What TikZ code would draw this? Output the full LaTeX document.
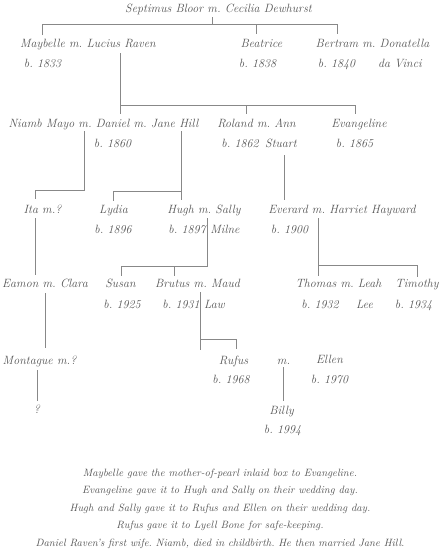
\documentclass[tikz,border=0pt]{standalone}
\usepackage{xcolor}
\definecolor{txt}{HTML}{555555}
\definecolor{ln}{HTML}{888888}
\begin{document}
\frenchspacing
\begin{tikzpicture}[x=1pt,y=-1pt,
  person/.style={anchor=base,inner sep=0pt,text=txt,font=\fontsize{12}{14}\selectfont\itshape},
  note/.style={anchor=base,inner sep=0pt,text=txt,font=\fontsize{10.6}{12}\selectfont\itshape},
  link/.style={draw=ln,line width=0.7pt}]
\useasboundingbox (0,0) rectangle (440,550);
% generation 0
\node[person] (title) at (218.5,12) {Septimus Bloor m. Cecilia Dewhurst};
% generation 1
\node[person] (maybelle) at (88,47) {Maybelle m. Lucius Raven};
\node[person] (b1833) at (42.5,67) {b. 1833};
\node[person] (beatrice) at (261.5,47) {Beatrice};
\node[person] (b1838) at (257.5,67) {b. 1838};
\node[person] (bertram) at (372.5,47) {Bertram m. Donatella};
\node[person] (b1840) at (336.5,67) {b. 1840};
\node[person] (davinci) at (400,67) {da Vinci};
% generation 2
\node[person] (niamb) at (103.5,127) {Niamb Mayo m. Daniel m. Jane Hill};
\node[person] (b1860) at (112.5,147) {b. 1860};
\node[person] (roland) at (256.5,127) {Roland m. Ann};
\node[person] (b1862) at (240,147) {b. 1862};
\node[person] (stuart) at (281,147) {Stuart};
\node[person] (evangeline) at (359,127) {Evangeline};
\node[person] (b1865) at (354.5,147) {b. 1865};
% generation 3
\node[person] (ita) at (42.5,213) {Ita m.?};
\node[person] (lydia) at (113.5,213) {Lydia};
\node[person] (b1896) at (113,233) {b. 1896};
\node[person] (hugh) at (204,213) {Hugh m. Sally};
\node[person] (b1897) at (187,233) {b. 1897};
\node[person] (milne) at (225,233) {Milne};
\node[person] (everard) at (342,213) {Everard m. Harriet Hayward};
\node[person] (b1900) at (289.5,233) {b. 1900};
% generation 4
\node[person] (eamon) at (45,287) {Eamon m. Clara};
\node[person] (susan) at (120.5,287) {Susan};
\node[person] (b1925) at (122,308) {b. 1925};
\node[person] (brutus) at (197.5,287) {Brutus m. Maud};
\node[person] (b1931) at (181,308) {b. 1931};
\node[person] (law) at (214.5,308) {Law};
\node[person] (thomas) at (338.5,287) {Thomas m. Leah};
\node[person] (b1932) at (320,308) {b. 1932};
\node[person] (lee) at (364.5,308) {Lee};
\node[person] (timothy) at (417,287) {Timothy};
\node[person] (b1934) at (413.5,308) {b. 1934};
% generation 5
\node[person] (montague) at (39.5,364) {Montague m.?};
\node[person] (rufus) at (233.5,364) {Rufus};
\node[person] (b1968) at (231,383) {b. 1968};
\node[person] (mdot) at (283.5,364) {m.};
\node[person] (ellen) at (329.5,363) {Ellen};
\node[person] (b1970) at (329.5,383) {b. 1970};
% generation 6
\node[person] (unknown) at (37,413) {?};
\node[person] (billy) at (281.5,414) {Billy};
\node[person] (b1994) at (282.5,433) {b. 1994};
% notes
\node[note] (n1) at (220,476) {Maybelle gave the mother-of-pearl inlaid box to Evangeline.};
\node[note] (n2) at (220,493.5) {Evangeline gave it to Hugh and Sally on their wedding day.};
\node[note] (n3) at (220,511) {Hugh and Sally gave it to Rufus and Ellen on their wedding day.};
\node[note] (n4) at (220,528.5) {Rufus gave it to Lyell Bone for safe-keeping.};
\node[note] (n5) at (220,546) {Daniel Raven's first wife. Niamb, died in childbirth. He then married Jane Hill.};
% junction coordinates
\coordinate (sbM) at (212,17);  \coordinate (sbJ) at (212,24);
\coordinate (sbL) at (42,24);   \coordinate (sbLd) at (42,35);
\coordinate (sbB) at (256,24);  \coordinate (sbBd) at (256,34);
\coordinate (sbR) at (337,24);  \coordinate (sbRd) at (337,34);
\coordinate (lrM) at (120,53);  \coordinate (lrL) at (120,105);  \coordinate (lrLd) at (120,114);
\coordinate (lrR) at (355,105); \coordinate (lrRd) at (355,114);
\coordinate (lrC) at (246,105); \coordinate (lrCd) at (246,114);
\coordinate (nmM) at (84,131);  \coordinate (nmJ) at (84,190);
\coordinate (nmL) at (35,190);  \coordinate (nmLd) at (35,199);
\coordinate (jhM) at (181,131); \coordinate (jhJ) at (181,191); \coordinate (jhD) at (181,200);
\coordinate (jhL) at (113,191); \coordinate (jhLd) at (113,201);
\coordinate (asM) at (284,155); \coordinate (asD) at (284,200);
\coordinate (hsM) at (207,218); \coordinate (hsJ) at (207,266);
\coordinate (hsL) at (121,266); \coordinate (hsLd) at (121,276);
\coordinate (hsC) at (174,266); \coordinate (hsCd) at (174,276);
\coordinate (ehM) at (318,218); \coordinate (ehJ) at (318,265); \coordinate (ehD) at (318,276);
\coordinate (ehR) at (417,265); \coordinate (ehRd) at (417,277);
\coordinate (itM) at (35,218);  \coordinate (itD) at (35,275);
\coordinate (ecM) at (45,293);  \coordinate (ecD) at (45,348);
\coordinate (bmM) at (200,292); \coordinate (bmJ) at (200,339); \coordinate (bmD) at (200,350);
\coordinate (bmR) at (236,339); \coordinate (bmRd) at (236,349);
\coordinate (mgM) at (37,370);  \coordinate (mgD) at (37,401);
\coordinate (reM) at (283,367); \coordinate (reD) at (283,401);
% connectors
\draw[link] (sbM) -- (sbJ);
\draw[link] (sbLd) -- (sbL) -- (sbR) -- (sbRd);
\draw[link] (sbB) -- (sbBd);
\draw[link] (lrM) -- (lrLd);
\draw[link] (lrL) -- (lrR) -- (lrRd);
\draw[link] (lrC) -- (lrCd);
\draw[link] (nmM) -- (nmJ) -- (nmL) -- (nmLd);
\draw[link] (jhM) -- (jhD);
\draw[link] (jhJ) -- (jhL) -- (jhLd);
\draw[link] (asM) -- (asD);
\draw[link] (hsM) -- (hsJ) -- (hsL) -- (hsLd);
\draw[link] (hsC) -- (hsCd);
\draw[link] (ehM) -- (ehD);
\draw[link] (ehJ) -- (ehR) -- (ehRd);
\draw[link] (itM) -- (itD);
\draw[link] (ecM) -- (ecD);
\draw[link] (bmM) -- (bmD);
\draw[link] (bmJ) -- (bmR) -- (bmRd);
\draw[link] (mgM) -- (mgD);
\draw[link] (reM) -- (reD);
\end{tikzpicture}
\end{document}
